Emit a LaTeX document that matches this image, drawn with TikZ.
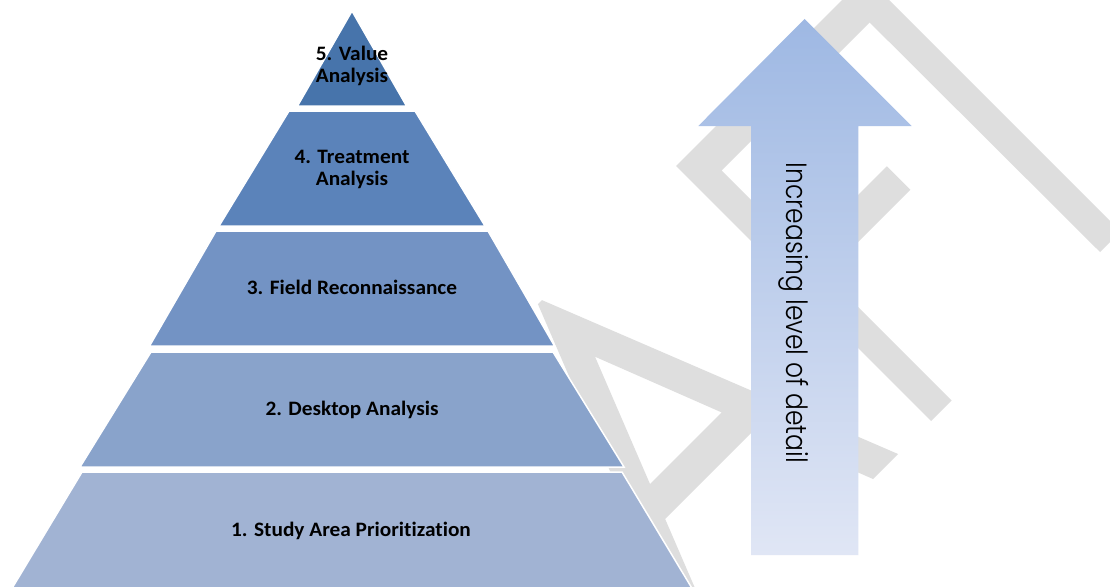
\documentclass[tikz,border=0pt]{standalone}
\usepackage{fontspec}
\usepackage{graphicx}
\setmainfont{Carlito}[Ligatures=NoCommon]
\IfFontExistsTF{Poppins Light}{\newfontfamily\gothicfont{Poppins Light}}{\newfontfamily\gothicfont{Poppins}}
\definecolor{tfive}{RGB}{71,116,171}
\definecolor{tfour}{RGB}{91,131,186}
\definecolor{tthree}{RGB}{115,147,196}
\definecolor{ttwo}{RGB}{137,163,203}
\definecolor{tone}{RGB}{161,179,211}
\definecolor{wmgray}{RGB}{222,222,222}
\definecolor{arrtop}{RGB}{158,184,227}
\definecolor{arrbot}{RGB}{224,230,245}
\newcommand{\wlab}[1]{\scalebox{1.04}[1]{\fontsize{20.5}{22}\selectfont\bfseries\begin{tabular}{@{}c@{}}#1\end{tabular}}}
\begin{document}
\begin{tikzpicture}[x=1pt,y=-1pt,
  wmark/.style={fill=wmgray, even odd rule},
  tier/.style={draw=white, line width=1.5pt, line join=miter},
  lbl/.style={inner sep=0pt, text=black}]
\useasboundingbox (0,0) rectangle (1110,586);
\clip (0,0) rectangle (1110,586);
\fill[white] (0,0) rectangle (1110,586);
% watermark
\fill[wmark] (537.9,304.1) -- (541.9,300.1) -- (898,454) -- (873,479) -- (756.3,427.7)
  -- (665.1,518.9) -- (721.7,650) -- (687.3,650) -- cycle
  (595,356.7) -- (721.6,412.4) -- (650,484) -- cycle;
\fill[wmark] (676,166) -- (861,-19) -- (886,6) -- (721.5,170.5) -- (802,251)
  -- (886.75,166.25) -- (910.25,189.75) -- (825.5,274.5) -- (951.5,400.5) -- (931,421) -- cycle;
\fill[wmark] (823.5,-23.5) -- (844.5,-44.5) -- (1120.5,231.5) -- (1100,252) -- cycle;
% pyramid
\fill[tier, fill=tone] (82,472) -- (622,472) -- (693,590) -- (11,590) -- cycle;
\fill[tier, fill=ttwo] (151,352) -- (553,352) -- (624,467) -- (80,467) -- cycle;
\fill[tier, fill=tthree] (216,231) -- (488,231) -- (554.5,346) -- (149.5,346) -- cycle;
\fill[tier, fill=tfour] (289,111) -- (415,111) -- (485,226) -- (219,226) -- cycle;
\fill[tier, fill=tfive] (352,11) -- (406.5,106) -- (297.5,106) -- cycle;
\node[lbl] (l5) at (352,67) {\wlab{5. Value\\Analysis}};
\node[lbl] (l4) at (352,169.6) {\wlab{4. Treatment\\Analysis}};
\node[lbl] (l3) at (352,290.5) {\wlab{3. Field Reconnaissance}};
\node[lbl] (l2) at (352,411) {\wlab{2. Desktop Analysis}};
\node[lbl] (l1) at (351,531.6) {\wlab{1. Study Area Prioritization}};
% arrow
\shade[top color=arrtop, bottom color=arrbot] (804.5,19) -- (911.7,126) -- (858.3,126)
  -- (858.3,555) -- (751,555) -- (751,126) -- (698.3,126) -- cycle;
\node[lbl, rotate=-90, anchor=base] (arrlab) at (786.5,313)
  {\scalebox{1}[1.17]{\fontsize{25}{30}\selectfont\gothicfont Increasing level of detail}};
\end{tikzpicture}
\end{document}
